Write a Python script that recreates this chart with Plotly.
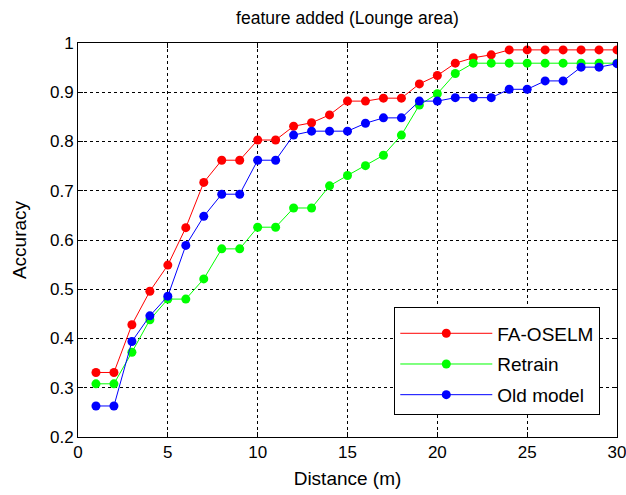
import plotly.graph_objects as go

distance = list(range(1, 31))
fa_oselm = [0.331, 0.331, 0.428, 0.496, 0.549, 0.625, 0.717, 0.762, 0.762, 0.803,
            0.803, 0.831, 0.838, 0.854, 0.882, 0.882, 0.888, 0.888, 0.917, 0.934,
            0.959, 0.970, 0.976, 0.986, 0.986, 0.986, 0.986, 0.986, 0.986, 0.986]
retrain = [0.308, 0.308, 0.372, 0.438, 0.480, 0.480, 0.521, 0.582, 0.582, 0.626,
           0.626, 0.665, 0.665, 0.710, 0.731, 0.751, 0.772, 0.813, 0.874, 0.897,
           0.938, 0.959, 0.959, 0.959, 0.959, 0.959, 0.959, 0.959, 0.959, 0.959]
old_model = [0.263, 0.263, 0.394, 0.446, 0.486, 0.589, 0.648, 0.693, 0.693, 0.762,
             0.762, 0.813, 0.821, 0.821, 0.821, 0.837, 0.848, 0.848, 0.882, 0.882,
             0.889, 0.889, 0.889, 0.906, 0.906, 0.923, 0.923, 0.951, 0.951, 0.958]

series = [("FA-OSELM", fa_oselm, "#ff0000"),
          ("Retrain", retrain, "#00ff00"),
          ("Old model", old_model, "#0000ff")]

fig = go.Figure()
for i, (name, vals, col) in enumerate(series):
    fig.add_trace(go.Scatter(
        x=distance, y=vals, name=name, mode="lines+markers",
        line=dict(color=col, width=1),
        marker=dict(color=col, size=9, symbol="circle"),
        legendgroup=f"g{i}",
    ))

font = "Liberation Sans, Arial, Helvetica, sans-serif"
axis_common = dict(
    showline=True, linecolor="black", linewidth=1, mirror="ticks",
    ticks="inside", ticklen=5, tickcolor="black",
    showgrid=True, gridcolor="black", griddash="dot", gridwidth=1,
    zeroline=False, tickfont=dict(size=17, color="black", family=font),
    automargin=False, ticklabeloverflow="allow",
)
fig.update_xaxes(range=[0, 30], dtick=5, tick0=0,
                 title=dict(text="Distance (m)", font=dict(size=19, color="black", family=font), standoff=10),
                 **axis_common)
fig.update_yaxes(range=[0.2, 1.0], dtick=0.1, tick0=0.2,
                 title=dict(text="Accuracy", font=dict(size=19, color="black", family=font), standoff=18),
                 **axis_common)

fig.update_layout(
    width=626, height=495,
    margin=dict(l=78, r=9, t=43, b=58),
    paper_bgcolor="white", plot_bgcolor="white",
    font=dict(family=font, color="black"),
    title=dict(text="feature added (Lounge area)", x=0.5, xref="paper", xanchor="center",
               y=0.963, yanchor="middle", font=dict(size=17.5, color="black", family=font)),
    legend=dict(x=0.969, y=0.056, xanchor="right", yanchor="bottom",
                bgcolor="white", bordercolor="black", borderwidth=1,
                font=dict(size=19, color="black", family=font),
                title=dict(text=" ", font=dict(size=5)),
                tracegroupgap=3, itemwidth=92),
    showlegend=True,
)

fig.write_html("out.html")
